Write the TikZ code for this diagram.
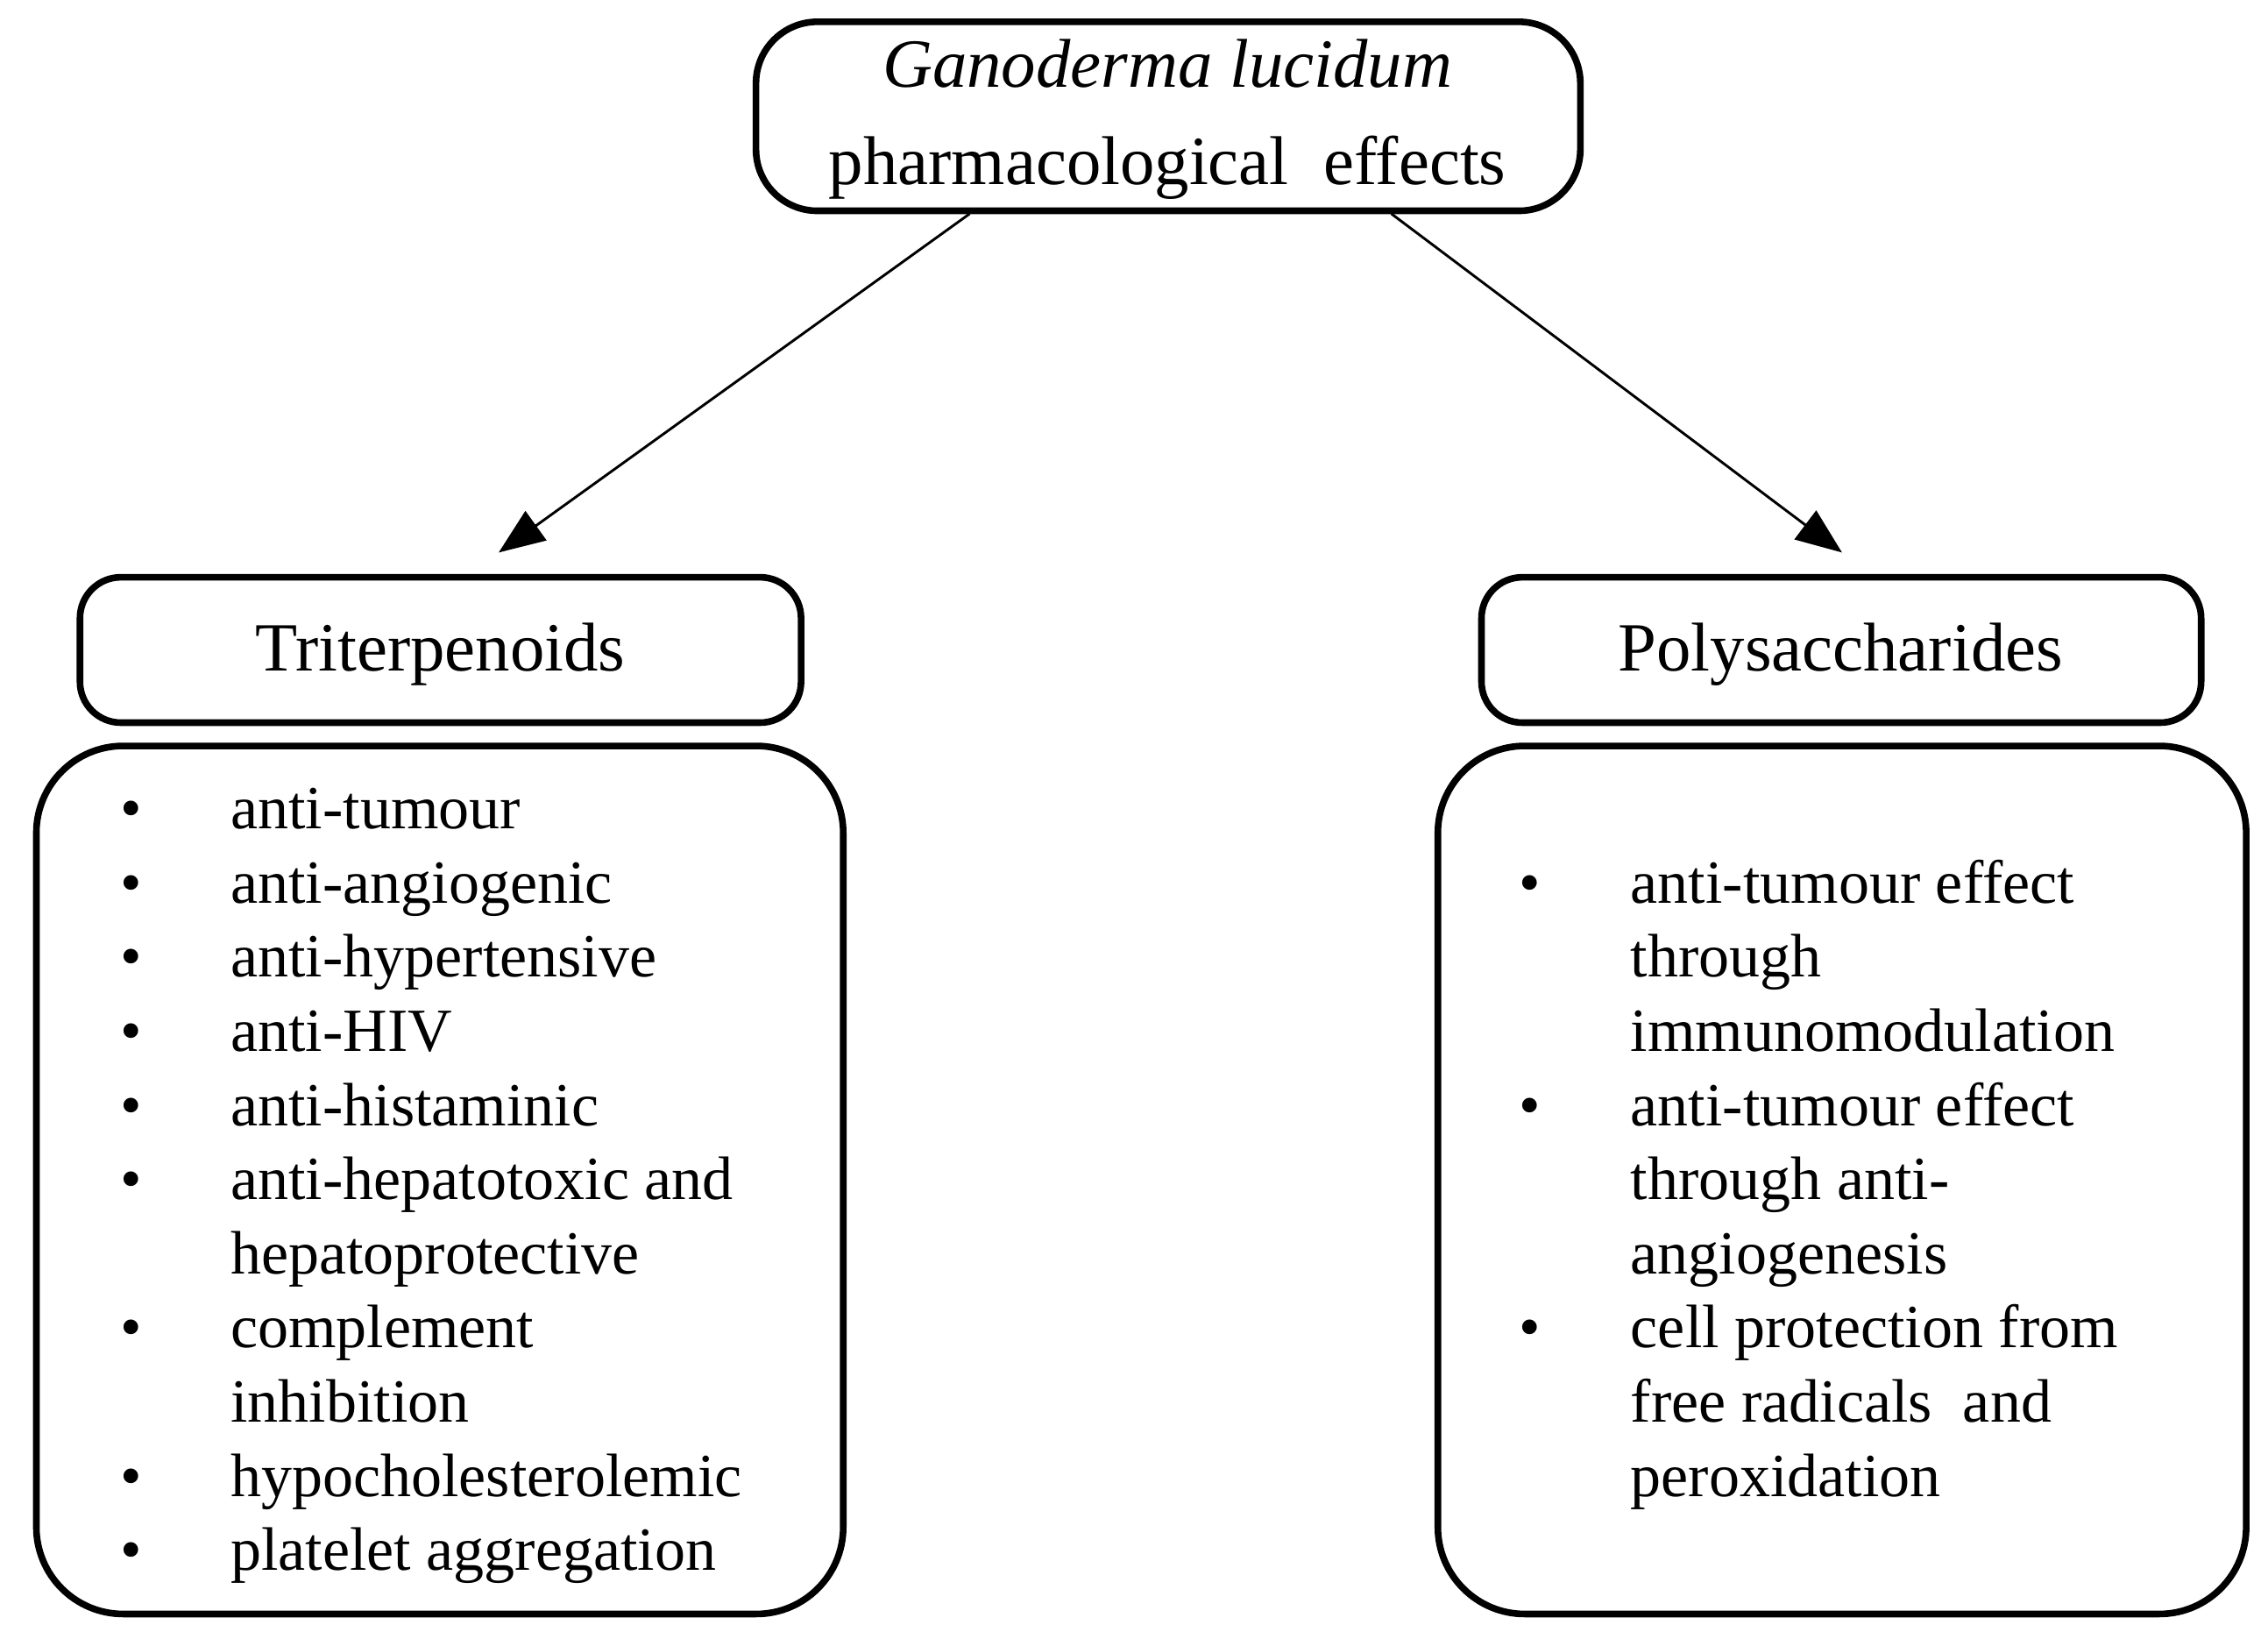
\documentclass[tikz,border=0pt]{standalone}
\usepackage{fontspec}
\setmainfont{Liberation Serif}
\usetikzlibrary{arrows.meta}
\begin{document}
\begin{tikzpicture}[x=0.01cm,y=-0.01cm,
  box/.style={draw,line width=1.3pt,rounded corners=#1},
  lbl/.style={anchor=base west,inner sep=0,font=\fontsize{12}{14}\selectfont},
  arr/.style={-{Triangle[length=9pt,width=7pt]},line width=0.5pt}]
\useasboundingbox (0,0) rectangle (1560,1122);
\draw[box=12pt] (520,15) rectangle (1087,145);
\node[inner sep=0,font=\fontsize{13.5}{16}\selectfont] (top) at (803,82) {\begin{tabular}{c}\textit{Ganoderma lucidum}\\[3pt] pharmacological\ \ effects\end{tabular}};
\coordinate (t1) at (667,147); \coordinate (t2) at (957,147);
\draw[box=8pt] (55,397) rectangle (551,497);
\node[font=\fontsize{13.5}{16}\selectfont] (tri) at (303,450) {Triterpenoids};
\draw[box=8pt] (1019,397) rectangle (1514,497);
\node[font=\fontsize{13.5}{16}\selectfont] (poly) at (1266,450) {Polysaccharides};
\coordinate (a1) at (343,380); \coordinate (a2) at (1267,380);
\draw[arr] (t1) -- (a1);
\draw[arr] (t2) -- (a2);
\draw[box=17pt] (25,513) rectangle (580,1110);
\draw[box=17pt] (989,513) rectangle (1545,1110);
\foreach [count=\i] \b/\t in {{\textbullet}/anti-tumour,{\textbullet}/anti-angiogenic,{\textbullet}/anti-hypertensive,{\textbullet}/anti-HIV,{\textbullet}/anti-histaminic,{\textbullet}/anti-hepatotoxic and,{}/hepatoprotective,{\textbullet}/complement,{}/inhibition,{\textbullet}/hypocholesterolemic,{\textbullet}/platelet aggregation}{
  \node[lbl] (Lb\i) at (82,570+51*\i-51) {\b};
  \node[lbl] (L\i) at (158,570+51*\i-51) {\t};
}
\foreach [count=\i] \b/\t in {{\textbullet}/anti-tumour effect,{}/through,{}/immunomodulation,{\textbullet}/anti-tumour effect,{}/through anti-,{}/angiogenesis,{\textbullet}/cell protection from,{}/free radicals\ \ and,{}/peroxidation}{
  \node[lbl] (Rb\i) at (1044,621+51*\i-51) {\b};
  \node[lbl] (R\i) at (1121,621+51*\i-51) {\t};
}
\end{tikzpicture}
\end{document}
